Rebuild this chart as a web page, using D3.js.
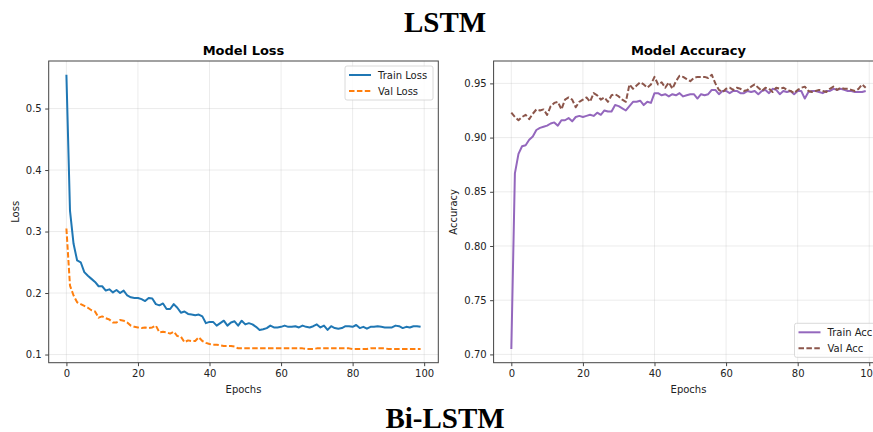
<!DOCTYPE html>
<html>
<head>
<meta charset="utf-8">
<script src="https://cdn.jsdelivr.net/npm/d3@7"></script>
<style>
	html, body { margin: 0; padding: 0; background: #fff; overflow: hidden; }
	text { font-family: "DejaVu Sans", sans-serif; fill: #222; }
</style>
</head>
<body>
<div id="chart"></div>
<script>
(function() {
	var epochs = d3.range(0, 100);

	var trainLoss = [0.555, 0.334, 0.280, 0.253, 0.250, 0.234, 0.228, 0.223, 0.218, 0.211,
		0.211, 0.204, 0.206, 0.201, 0.205, 0.200, 0.204, 0.196, 0.193, 0.192,
		0.192, 0.190, 0.187, 0.192, 0.191, 0.182, 0.180, 0.183, 0.174, 0.174,
		0.182, 0.176, 0.168, 0.170, 0.166, 0.165, 0.164, 0.165, 0.162, 0.151,
		0.153, 0.153, 0.147, 0.151, 0.155, 0.147, 0.152, 0.154, 0.147, 0.155,
		0.149, 0.151, 0.149, 0.145, 0.140, 0.141, 0.143, 0.147, 0.144, 0.144,
		0.145, 0.147, 0.145, 0.145, 0.146, 0.144, 0.147, 0.145, 0.144, 0.146,
		0.149, 0.144, 0.147, 0.140, 0.146, 0.143, 0.142, 0.143, 0.146, 0.146,
		0.145, 0.148, 0.143, 0.145, 0.142, 0.145, 0.145, 0.146, 0.145, 0.144,
		0.144, 0.144, 0.147, 0.146, 0.143, 0.145, 0.144, 0.146, 0.146, 0.145];

	var valLoss = [0.305, 0.212, 0.196, 0.185, 0.182, 0.179, 0.176, 0.172, 0.170, 0.160,
		0.162, 0.159, 0.157, 0.152, 0.152, 0.156, 0.155, 0.152, 0.147, 0.145,
		0.144, 0.143, 0.144, 0.143, 0.144, 0.147, 0.136, 0.137, 0.136, 0.134,
		0.137, 0.130, 0.129, 0.120, 0.123, 0.122, 0.122, 0.128, 0.122, 0.119,
		0.117, 0.116, 0.116, 0.115, 0.114, 0.114, 0.114, 0.113, 0.110, 0.110,
		0.110, 0.110, 0.110, 0.110, 0.110, 0.110, 0.110, 0.110, 0.110, 0.110,
		0.110, 0.110, 0.110, 0.110, 0.110, 0.110, 0.110, 0.109, 0.109, 0.109,
		0.110, 0.110, 0.110, 0.110, 0.110, 0.110, 0.110, 0.110, 0.110, 0.110,
		0.109, 0.109, 0.109, 0.109, 0.109, 0.110, 0.110, 0.110, 0.110, 0.110,
		0.109, 0.109, 0.109, 0.109, 0.109, 0.109, 0.109, 0.109, 0.109, 0.109];

	var trainAcc = [0.705, 0.867, 0.885, 0.892, 0.893, 0.898, 0.901, 0.907, 0.909, 0.910,
		0.911, 0.913, 0.914, 0.911, 0.916, 0.916, 0.918, 0.915, 0.919, 0.920,
		0.919, 0.920, 0.921, 0.920, 0.923, 0.921, 0.925, 0.924, 0.924, 0.930,
		0.929, 0.927, 0.925, 0.929, 0.933, 0.933, 0.934, 0.930, 0.933, 0.932,
		0.941, 0.941, 0.939, 0.940, 0.938, 0.940, 0.939, 0.941, 0.938, 0.939,
		0.940, 0.940, 0.936, 0.940, 0.939, 0.940, 0.944, 0.944, 0.940, 0.943,
		0.943, 0.941, 0.943, 0.943, 0.941, 0.941, 0.943, 0.942, 0.943, 0.940,
		0.943, 0.944, 0.941, 0.945, 0.944, 0.940, 0.943, 0.942, 0.943, 0.940,
		0.943, 0.943, 0.936, 0.942, 0.943, 0.943, 0.942, 0.941, 0.943, 0.943,
		0.945, 0.944, 0.945, 0.944, 0.943, 0.943, 0.942, 0.942, 0.942, 0.943];

	var valAcc = [0.923, 0.919, 0.916, 0.919, 0.921, 0.917, 0.922, 0.926, 0.925, 0.926,
		0.921, 0.929, 0.932, 0.933, 0.926, 0.935, 0.937, 0.935, 0.928, 0.933,
		0.935, 0.937, 0.933, 0.941, 0.939, 0.935, 0.937, 0.933, 0.939, 0.940,
		0.938, 0.935, 0.933, 0.949, 0.945, 0.948, 0.951, 0.949, 0.946, 0.949,
		0.956, 0.949, 0.951, 0.946, 0.951, 0.945, 0.952, 0.957, 0.956, 0.954,
		0.952, 0.955, 0.956, 0.956, 0.956, 0.955, 0.958, 0.950, 0.944, 0.942,
		0.945, 0.946, 0.944, 0.946, 0.945, 0.943, 0.944, 0.947, 0.949, 0.946,
		0.943, 0.946, 0.945, 0.942, 0.946, 0.945, 0.946, 0.944, 0.943, 0.941,
		0.944, 0.946, 0.947, 0.943, 0.942, 0.943, 0.944, 0.943, 0.942, 0.945,
		0.947, 0.944, 0.946, 0.945, 0.945, 0.944, 0.943, 0.945, 0.949, 0.946];

	var xTicks = [0, 20, 40, 60, 80, 100];
	var lossTicks = [0.1, 0.2, 0.3, 0.4, 0.5];
	var accTicks = [0.70, 0.75, 0.80, 0.85, 0.90, 0.95];

	var svgwidth = 873;
	var svgheight = 432;

	var svg = d3.select("#chart")
				.append("svg")
				.attr("width", svgwidth)
				.attr("height", svgheight);

	svg.append("rect")
		.attr("width", svgwidth)
		.attr("height", svgheight)
		.attr("fill", "#fff");

	// matplotlib style: 5% margin around data
	var padded = function(lo, hi) {
		var m = (hi - lo) * 0.05;
		return [lo - m, hi + m];
	};

	var drawPanel = function(cfg) {
		var x = d3.scaleLinear()
				.domain(padded(0, 99))
				.range([cfg.left, cfg.right]);
		var allVals = cfg.series[0].values.concat(cfg.series[1].values);
		var y = d3.scaleLinear()
				.domain(padded(d3.min(allVals), d3.max(allVals)))
				.range([cfg.bottom, cfg.top]);

		var g = svg.append("g");

		// grid
		g.selectAll(".gx")
			.data(xTicks)
			.enter()
			.append("line")
			.attr("x1", function(d){ return x(d); })
			.attr("x2", function(d){ return x(d); })
			.attr("y1", cfg.top)
			.attr("y2", cfg.bottom)
			.attr("stroke", "#b0b0b0")
			.attr("stroke-opacity", 0.3)
			.attr("stroke-width", 0.8);

		g.selectAll(".gy")
			.data(cfg.yTicks)
			.enter()
			.append("line")
			.attr("x1", cfg.left)
			.attr("x2", cfg.right)
			.attr("y1", function(d){ return y(d); })
			.attr("y2", function(d){ return y(d); })
			.attr("stroke", "#b0b0b0")
			.attr("stroke-opacity", 0.3)
			.attr("stroke-width", 0.8);

		var line = d3.line()
				.x(function(d, i){ return x(epochs[i]); })
				.y(function(d){ return y(d); });

		cfg.series.forEach(function(s){
			g.append("path")
				.attr("d", line(s.values))
				.attr("fill", "none")
				.attr("stroke", s.color)
				.attr("stroke-width", 2)
				.attr("stroke-linejoin", "round")
				.attr("stroke-dasharray", s.dashed ? "5.5,2.4" : null);
		});

		// frame
		g.append("rect")
			.attr("x", cfg.left)
			.attr("y", cfg.top)
			.attr("width", cfg.right - cfg.left)
			.attr("height", cfg.bottom - cfg.top)
			.attr("fill", "none")
			.attr("stroke", "#444")
			.attr("stroke-width", 1);

		var xAxis = d3.axisBottom(x)
				.tickValues(xTicks)
				.tickSize(3.5)
				.tickPadding(3.5)
				.tickFormat(d3.format("d"));
		var ax = g.append("g")
				.attr("transform", "translate(0," + cfg.bottom + ")")
				.call(xAxis);

		var yAxis = d3.axisLeft(y)
				.tickValues(cfg.yTicks)
				.tickSize(3.5)
				.tickPadding(3.5)
				.tickFormat(d3.format(cfg.yFormat));
		var ay = g.append("g")
				.attr("transform", "translate(" + cfg.left + ",0)")
				.call(yAxis);

		[ax, ay].forEach(function(a){
			a.select(".domain").remove();
			a.selectAll("line").attr("stroke", "#444");
			a.selectAll("text")
				.attr("font-size", 10)
				.attr("font-family", "DejaVu Sans, sans-serif")
				.attr("fill", "#222");
		});

		g.append("text")
			.attr("x", (cfg.left + cfg.right) / 2)
			.attr("y", cfg.top - 6)
			.attr("text-anchor", "middle")
			.attr("font-size", 13)
			.attr("font-weight", "bold")
			.style("fill", "#000")
			.text(cfg.title);

		g.append("text")
			.attr("x", (cfg.left + cfg.right) / 2)
			.attr("y", cfg.bottom + 30)
			.attr("text-anchor", "middle")
			.attr("font-size", 10)
			.text("Epochs");

		g.append("text")
			.attr("transform", "translate(" + cfg.ylabelX + "," + ((cfg.top + cfg.bottom) / 2) + ") rotate(-90)")
			.attr("text-anchor", "middle")
			.attr("font-size", 10)
			.text(cfg.ylabel);

		// legend
		var lg = g.append("g")
				.attr("transform", "translate(" + cfg.legend[0] + "," + cfg.legend[1] + ")");
		lg.append("rect")
			.attr("width", cfg.legendW)
			.attr("height", 34)
			.attr("rx", 2)
			.attr("fill", "#fff")
			.attr("fill-opacity", 0.8)
			.attr("stroke", "#d0d0d0")
			.attr("stroke-width", 0.8);

		var rows = lg.selectAll(".row")
				.data(cfg.series)
				.enter()
				.append("g")
				.attr("transform", function(d, i){
					return "translate(0," + (9 + i * 16) + ")";
				});
		rows.append("line")
			.attr("x1", 4)
			.attr("x2", 26)
			.attr("stroke", function(d){ return d.color; })
			.attr("stroke-width", 2)
			.attr("stroke-dasharray", function(d){ return d.dashed ? "5.5,2.4" : null; });
		rows.append("text")
			.attr("x", 33)
			.attr("y", 3.5)
			.attr("font-size", 10)
			.text(function(d){ return d.name; });
	};

	drawPanel({
		left: 48.7, right: 438.3, top: 61, bottom: 362.7,
		title: "Model Loss", ylabel: "Loss", ylabelX: 19,
		yTicks: lossTicks, yFormat: ".1f",
		legend: [345, 66], legendW: 88,
		series: [
			{name: "Train Loss", values: trainLoss, color: "#1f77b4", dashed: false},
			{name: "Val Loss", values: valLoss, color: "#ff7f0e", dashed: true}
		]
	});

	drawPanel({
		left: 493.6, right: 883.4, top: 61, bottom: 362.7,
		title: "Model Accuracy", ylabel: "Accuracy", ylabelX: 457,
		yTicks: accTicks, yFormat: ".2f",
		legend: [794.5, 323.3], legendW: 84,
		series: [
			{name: "Train Acc", values: trainAcc, color: "#9467bd", dashed: false},
			{name: "Val Acc", values: valAcc, color: "#8c564b", dashed: true}
		]
	});

	// model names
	svg.append("text")
		.attr("x", 445)
		.attr("y", 32)
		.attr("text-anchor", "middle")
		.attr("font-size", 29)
		.attr("font-weight", "bold")
		.style("font-family", "'Liberation Serif', 'Times New Roman', serif")
		.style("fill", "#000")
		.text("LSTM");

	svg.append("text")
		.attr("x", 445)
		.attr("y", 428)
		.attr("text-anchor", "middle")
		.attr("font-size", 29)
		.attr("font-weight", "bold")
		.style("font-family", "'Liberation Serif', 'Times New Roman', serif")
		.style("fill", "#000")
		.text("Bi-LSTM");
})();
</script>
</body>
</html>
